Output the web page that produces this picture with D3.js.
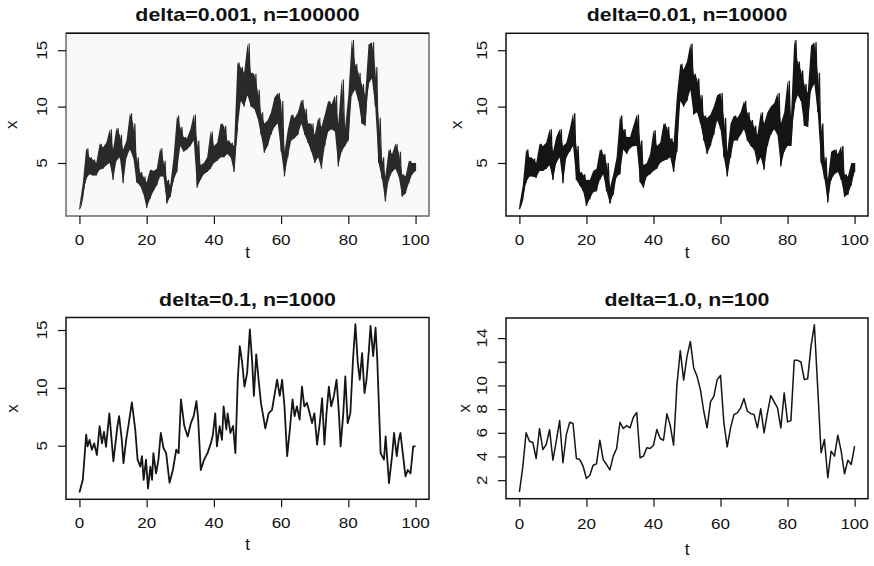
<!DOCTYPE html>
<html>
<head>
<meta charset="utf-8">
<script src="https://cdn.jsdelivr.net/npm/d3@7"></script>
<style>
  body { margin: 0; background: #fff; }
  svg { display: block; }
</style>
</head>
<body>
<div id="chart"></div>
<script>
// values
var titles = ["delta=0.001, n=100000", "delta=0.01, n=10000", "delta=0.1, n=1000", "delta=1.0, n=100"];
var xTicks = [0, 20, 40, 60, 80, 100];
var yTicks = [5, 10, 15];
var yTicksD = [2, 4, 6, 8, 10, 12, 14];
var yTickLabelsD = ["2", "4", "6", "8", "10", "", "14"];

// delta=0.001: band of the path, low and high at each whole t
var loA = [0.9,2.0,3.6,4.0,3.9,3.9,4.4,4.5,4.8,5.0,3.5,5.2,5.5,3.2,5.5,6.2,5.5,3.3,3.0,2.3,
  1.0,1.8,2.5,3.0,3.8,3.8,1.4,2.0,3.5,4.2,6.5,6.0,6.2,6.5,7.0,2.8,3.5,4.0,4.2,4.5,
  5.0,5.2,5.5,5.5,5.8,5.5,4.2,8.0,10.5,10.0,11.0,10.0,9.8,9.0,7.5,5.9,6.5,7.5,8.2,8.5,
  6.0,3.8,5.5,7.0,7.2,7.5,8.5,7.5,6.8,6.0,5.0,5.5,4.5,6.5,7.8,8.0,7.8,4.7,6.0,6.5,
  7.0,11.0,11.5,10.5,8.5,8.3,12.0,12.5,10.0,5.0,3.6,1.6,3.5,4.2,4.5,3.8,2.0,2.3,3.2,4.0,4.3];
var hiA = [1.2,3.2,6.3,5.5,5.3,5.0,6.7,6.4,6.8,8.0,6.2,8.1,7.5,6.2,7.0,9.4,8.5,5.5,4.2,3.8,
  3.3,4.4,4.3,4.5,6.3,5.2,3.5,3.0,5.5,9.2,8.2,7.3,7.2,8.0,9.3,7.0,4.8,5.0,5.5,7.8,
  6.5,6.8,8.5,8.3,7.0,6.8,6.5,13.9,13.5,13.0,15.6,13.0,12.9,11.5,9.5,8.5,8.8,9.5,10.8,11.2,
  10.5,6.0,8.0,9.3,9.0,9.5,10.6,9.8,8.5,8.5,7.5,9.0,8.2,9.3,10.5,10.2,11.0,8.5,12.4,8.0,
  11.0,15.9,13.8,13.0,12.0,11.0,15.5,15.7,13.5,9.0,5.5,3.8,6.2,5.8,6.7,6.0,4.0,3.8,5.2,5.0,5.0];

// delta=0.01: band of the path, low and high at each whole t
var loB = [0.9,1.8,3.3,3.8,3.8,3.7,4.3,4.3,4.5,4.8,3.5,5.0,5.5,3.2,5.5,6.0,6.5,3.5,3.0,2.5,
  1.2,1.8,2.4,2.5,3.5,4.0,2.5,1.4,2.2,3.8,4.0,6.2,5.8,6.3,6.5,6.5,3.3,2.8,3.8,4.0,
  4.3,4.5,5.0,5.2,5.3,5.5,4.2,6.0,10.5,10.0,10.5,11.5,9.3,9.5,8.5,7.0,5.8,6.5,7.5,8.8,
  8.0,5.5,3.8,5.5,7.0,7.0,7.5,8.0,7.0,6.5,6.2,4.9,5.5,4.4,6.5,7.5,8.0,7.5,4.7,6.0,
  6.5,6.5,10.0,11.0,10.5,8.3,8.2,11.5,12.0,9.5,5.0,3.6,1.5,3.5,4.0,4.2,3.5,2.0,2.2,3.0,4.2];
var hiB = [1.3,3.0,6.2,5.5,5.4,5.0,6.7,6.5,6.8,8.0,6.0,7.3,8.0,6.5,6.8,8.0,9.4,6.5,4.2,4.0,
  3.5,3.5,4.3,4.5,6.2,5.8,5.0,2.8,4.0,5.5,9.2,8.0,7.3,7.3,8.3,9.3,7.0,4.8,5.0,5.8,
  7.9,6.5,6.8,8.5,8.2,7.2,6.8,11.0,13.8,13.3,14.0,15.6,12.9,12.5,11.0,9.2,9.0,9.3,10.0,11.0,
  11.2,9.0,6.0,8.5,9.2,9.0,9.5,10.5,9.5,8.8,8.3,7.5,9.5,8.5,9.5,10.0,10.3,11.2,8.5,9.5,
  12.3,9.0,15.9,14.0,13.2,12.0,11.2,15.4,15.7,13.0,8.5,5.5,3.5,6.0,6.2,5.8,6.5,4.0,3.8,5.0,5.0];

// delta=0.1: turning points of the path
var tC = [0,1,2,2.4,3,3.7,4.4,5.2,6,6.7,7.3,7.9,8.9,10.1,11.3,11.8,12.6,13.1,13.9,14.6,
  15.6,16.6,17.3,18.1,18.6,19.1,19.8,20.4,21.1,21.6,22,22.8,23.5,24.2,25,25.8,26.8,27.8,28.8,29.5,
  30.2,31.2,32.2,33.2,34,34.8,35.3,36.1,37.1,38.1,39.1,39.7,40.4,40.9,41.7,42.4,42.9,43.7,44.1,44.9,
  45.7,46.4,47.1,47.7,48.4,49.1,49.9,50.7,51.4,51.9,52.6,53.3,54,55.3,56.3,57.3,58.3,58.8,59.6,60.3,
  61,61.8,62.6,63.4,64,64.7,65.5,66.2,66.9,67.7,68.5,69.2,69.9,70.7,71.5,72.2,72.9,73.5,74.2,74.9,
  75.7,76.5,77.2,77.7,78.5,79.1,79.8,80.6,81.4,82.1,82.8,83.4,84.1,84.8,85.4,86.1,86.6,87.4,88.1,88.6,
  89.6,90.6,91.1,92.1,93.1,93.6,94.4,95,95.5,96.3,97,97.7,98.5,99.3,100];
var vC = [0.95,2.05,5.95,4.94,5.5,4.65,5.2,4.2,6.7,5.2,6.2,4.9,7.8,3.65,6.7,7.55,5.5,3.5,5.5,6.8,
  8.75,6.4,3.8,3.2,4.1,2.05,3.8,1.3,3.2,2.05,4.36,2.6,3.8,6.1,4.8,4.36,1.8,2.9,4.65,4.36,
  9.0,6.7,5.8,7.0,7.55,8.85,7.4,2.9,3.8,4.36,5.2,5.95,7.8,4.94,6.7,5.5,8.4,6.4,7.8,6.1,
  6.7,4.36,10.7,13.6,12.2,10.1,11.3,15.06,12.2,9.3,12.9,10.7,8.7,6.5,7.8,8.1,9.85,10.7,9.3,10.7,
  8.4,4.1,6.4,9.0,7.55,8.4,7.25,10.1,8.4,8.7,7.8,6.95,7.8,5.1,6.95,9.1,5.1,7.8,10.1,8.4,
  9.3,10.7,7.8,4.94,7.8,11.0,6.95,7.8,12.5,15.5,12.2,10.7,13.0,9.55,10.7,13.2,15.35,12.75,15.2,12.5,
  4.36,3.8,5.8,1.76,4.36,6.1,4.1,5.5,6.1,4.1,2.35,2.9,2.6,4.94,4.94];

// delta=1.0: one value per t = 0..100
var vD = [1.0,3.1,6.0,5.29,5.18,3.83,6.36,4.59,5.0,6.27,
  3.69,5.29,7.03,3.47,5.85,6.89,6.78,3.83,3.74,3.18,
  2.14,2.42,3.26,3.38,5.38,3.74,3.32,2.87,4.03,4.67,
  6.89,6.36,6.61,6.42,7.31,7.71,3.89,4.03,4.73,4.67,
  4.95,6.27,5.52,5.37,7.6,6.61,4.95,10.07,12.94,10.45,
  12.45,13.72,11.48,10.77,9.65,7.82,6.42,8.61,9.08,10.49,
  10.85,6.84,4.82,6.42,7.54,7.68,8.1,8.89,7.82,7.62,
  7.54,6.42,8.04,6.0,7.68,9.14,8.61,8.1,6.42,9.37,
  6.92,7.03,12.12,12.12,11.98,10.49,10.57,13.3,15.13,9.79,
  4.31,5.43,2.2,4.45,4.03,5.8,4.45,2.54,3.69,3.32,4.87];

var width = 874, height = 566;
var font = "'Liberation Sans', Arial, sans-serif";

var svg = d3.select("#chart").append("svg")
  .attr("width", width)
  .attr("height", height);

// R style padding of 4% on each side
function padded(ext) {
  var r = ext[1] - ext[0];
  return [ext[0] - 0.04 * r, ext[1] + 0.04 * r];
}

var band = function (lo, hi) {
  return lo.map(function (d, i) { return {t: i, lo: d, hi: hi[i]}; });
};

var panels = [
  {title: titles[0], box: [66, 429, 33.3, 216], tickY: 245, labY: 258, labX: 17, tickX: 46.7,
   band: band(loA, hiA), width: 1.1, color: "#2a2a2a", frame: "#6a6a6a", bg: "#f9f9f9"},
  {title: titles[1], box: [506, 868, 33.3, 216], tickY: 245, labY: 258, labX: 462, tickX: 487,
   band: band(loB, hiB), width: 1.3, color: "#151515", frame: "#111", bg: "#fff"},
  {title: titles[2], box: [66, 429, 317.5, 499.3], tickY: 528, labY: 550, labX: 18, tickX: 46.7,
   data: tC.map(function (t, i) { return {t: t, v: vC[i]}; }), width: 1.8,
   color: "#151515", frame: "#111", bg: "#fff"},
  {title: titles[3], box: [506, 868, 318, 498.7], tickY: 529, labY: 555, labX: 470, tickX: 487,
   data: vD.map(function (v, i) { return {t: i, v: v}; }), width: 1.5,
   color: "#151515", frame: "#111", bg: "#fff", yTicks: yTicksD, yLabels: yTickLabelsD}
];

panels.forEach(function (p) {
  var b = p.box;
  var x = d3.scaleLinear().domain(padded([0, 100])).range([b[0], b[1]]);
  var yExt = p.band
    ? [d3.min(p.band, function (d) { return d.lo; }), d3.max(p.band, function (d) { return d.hi; })]
    : d3.extent(p.data, function (d) { return d.v; });
  var y = d3.scaleLinear().domain(padded(yExt)).range([b[3], b[2]]);

  var g = svg.append("g");

  g.append("rect")
    .attr("x", b[0]).attr("y", b[2])
    .attr("width", b[1] - b[0]).attr("height", b[3] - b[2])
    .attr("fill", p.bg);

  if (p.band) {
    // solid band between low and high
    var area = d3.area()
      .x(function (d) { return x(d.t); })
      .y0(function (d) { return y(d.lo); })
      .y1(function (d) { return y(d.hi); });
    g.append("path")
      .datum(p.band)
      .attr("fill", p.color)
      .attr("d", area);
    // sawtooth low -> high, half a step apart, for the hairy edge
    var saw = d3.line()
      .x(function (d) { return x(d[0]); })
      .y(function (d) { return y(d[1]); });
    var pts = [];
    p.band.forEach(function (d) {
      pts.push([d.t, d.lo]);
      pts.push([Math.min(d.t + 0.5, 100), d.hi]);
    });
    g.append("path")
      .datum(pts)
      .attr("fill", "none")
      .attr("stroke", p.color)
      .attr("stroke-width", p.width)
      .attr("d", saw);
  } else {
    var line = d3.line()
      .x(function (d) { return x(d.t); })
      .y(function (d) { return y(d.v); });
    g.append("path")
      .datum(p.data)
      .attr("fill", "none")
      .attr("stroke", p.color)
      .attr("stroke-width", p.width)
      .attr("stroke-linejoin", "round")
      .attr("d", line);
  }

  // frame
  g.append("rect")
    .attr("x", b[0]).attr("y", b[2])
    .attr("width", b[1] - b[0]).attr("height", b[3] - b[2])
    .attr("fill", "none")
    .attr("stroke", p.frame)
    .attr("stroke-width", 1.5);
  if (p.frame !== "#111") {
    g.append("line")
      .attr("x1", b[0]).attr("x2", b[1]).attr("y1", b[2]).attr("y2", b[2])
      .attr("stroke", "#111").attr("stroke-width", 1.5);
  }

  // x axis
  var ax = g.append("g")
    .attr("transform", "translate(0," + b[3] + ")")
    .call(d3.axisBottom(x).tickValues(xTicks).tickSize(8));
  ax.select(".domain").remove();
  ax.selectAll("line").attr("stroke", "#111").attr("stroke-width", 1.2);
  ax.selectAll("text").remove();
  xTicks.forEach(function (t) {
    g.append("text")
      .attr("transform", "translate(" + x(t) + "," + p.tickY + ") scale(1.1,1)")
      .attr("text-anchor", "middle")
      .attr("font-family", font)
      .attr("font-size", "15.5px")
      .attr("fill", "#111")
      .text(t);
  });

  // y axis
  var yt = p.yTicks || yTicks;
  var yl = p.yLabels || yt.map(String);
  var ay = g.append("g")
    .attr("transform", "translate(" + b[0] + ",0)")
    .call(d3.axisLeft(y).tickValues(yt).tickSize(8));
  ay.select(".domain").remove();
  ay.selectAll("line").attr("stroke", "#111").attr("stroke-width", 1.2);
  ay.selectAll("text").remove();
  yt.forEach(function (v, i) {
    g.append("text")
      .attr("transform", "translate(" + p.tickX + "," + y(v) + ") rotate(-90) scale(1.1,1)")
      .attr("text-anchor", "middle")
      .attr("font-family", font)
      .attr("font-size", "15.5px")
      .attr("fill", "#111")
      .text(yl[i]);
  });

  // titles
  var cx = (b[0] + b[1]) / 2;
  g.append("text")
    .attr("transform", "translate(" + cx + "," + (b[2] - 12) + ") scale(1.22,1)")
    .attr("text-anchor", "middle")
    .attr("font-family", font)
    .attr("font-weight", "bold")
    .attr("font-size", "17.5px")
    .attr("fill", "#111")
    .text(p.title);

  g.append("text")
    .attr("x", cx).attr("y", p.labY)
    .attr("text-anchor", "middle")
    .attr("font-family", font)
    .attr("font-size", "17px")
    .attr("fill", "#111")
    .text("t");

  g.append("text")
    .attr("transform", "translate(" + p.labX + "," + ((b[2] + b[3]) / 2) + ") rotate(-90)")
    .attr("text-anchor", "middle")
    .attr("font-family", font)
    .attr("font-size", "17px")
    .attr("fill", "#111")
    .text("x");
});
</script>
</body>
</html>
